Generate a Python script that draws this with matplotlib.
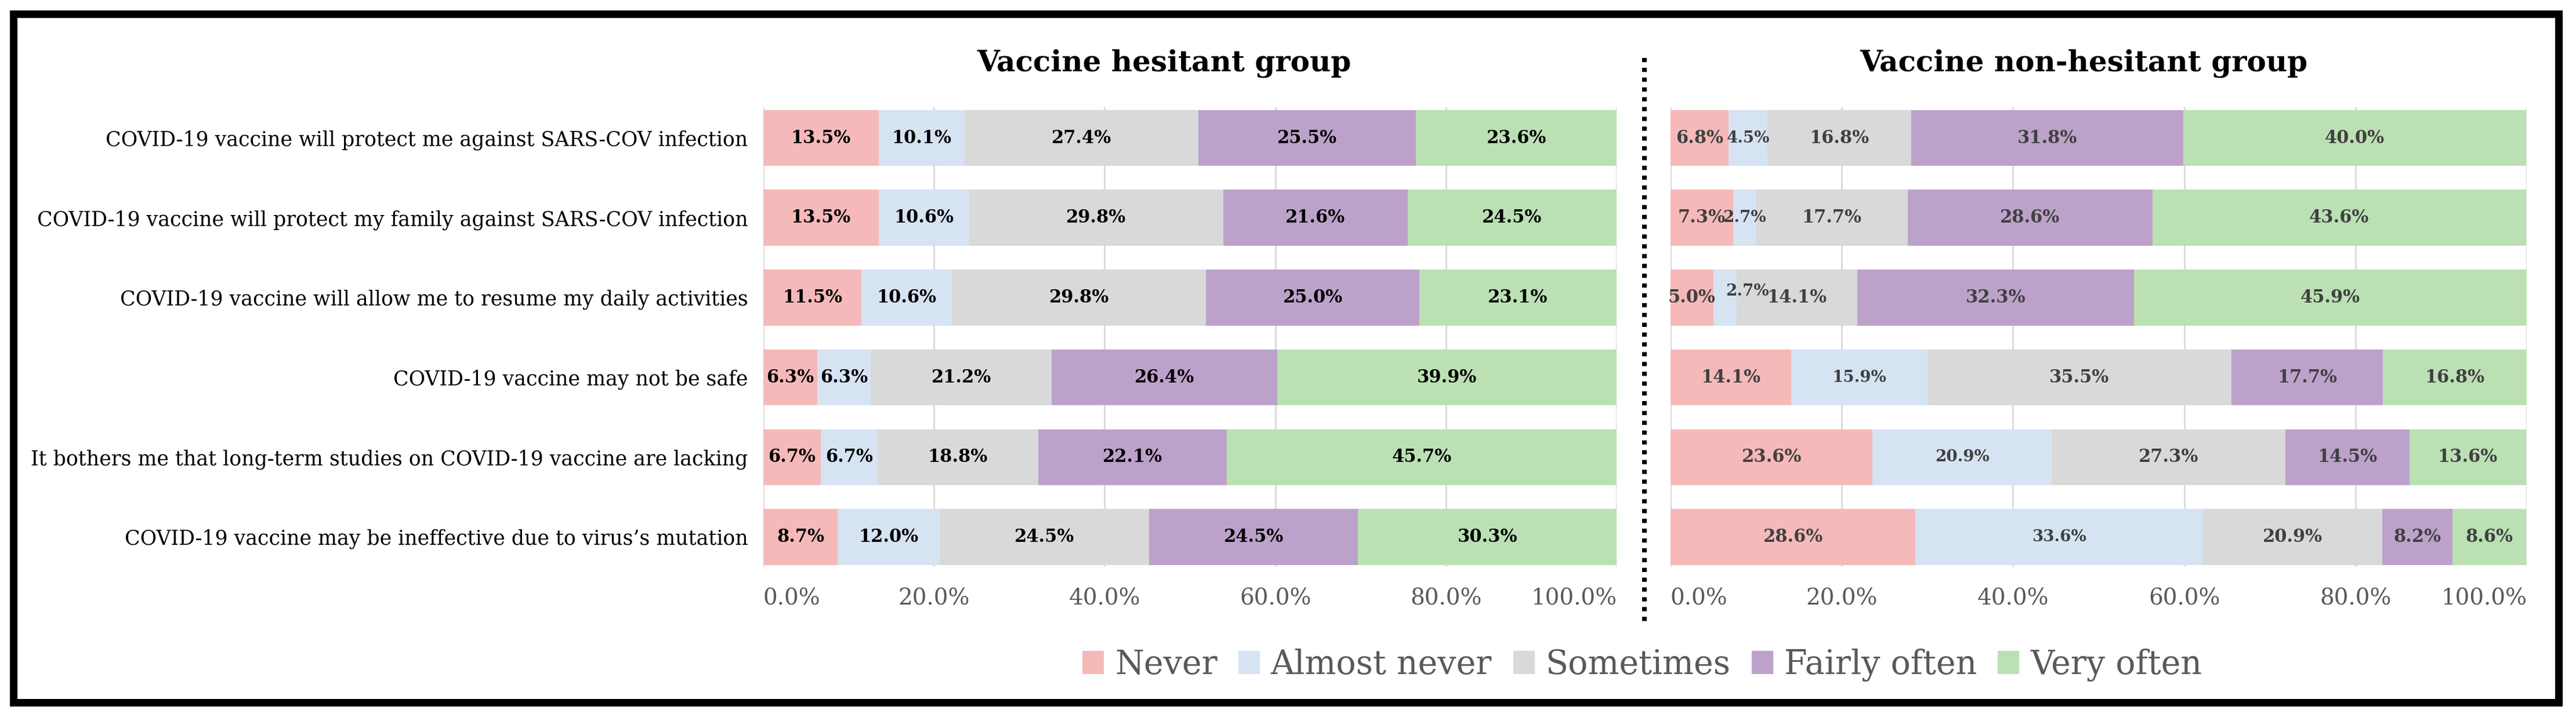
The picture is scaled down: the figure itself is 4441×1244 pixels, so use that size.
import matplotlib
matplotlib.use('Agg')
import matplotlib.pyplot as plt
from matplotlib.lines import Line2D
from matplotlib.patches import Rectangle
from matplotlib.transforms import ScaledTranslation

W, H = 4441, 1244
DPI = 100

statements = [
    'COVID-19 vaccine will protect me against SARS-COV infection',
    'COVID-19 vaccine will protect my family against SARS-COV infection',
    'COVID-19 vaccine will allow me to resume my daily activities',
    'COVID-19 vaccine may not be safe',
    'It bothers me that long-term studies on COVID-19 vaccine are lacking',
    'COVID-19 vaccine may be ineffective due to virus\u2019s mutation',
]
levels = ['Never', 'Almost never', 'Sometimes', 'Fairly often', 'Very often']
colors = ['#F6B9B9', '#D6E3F3', '#D9D9D9', '#BCA2CA', '#BBE0B4']

# vaccine hesitant group (%)
hes_never = [13.5, 13.5, 11.5, 6.3, 6.7, 8.7]
hes_almost = [10.1, 10.6, 10.6, 6.3, 6.7, 12.0]
hes_some = [27.4, 29.8, 29.8, 21.2, 18.8, 24.5]
hes_fairly = [25.5, 21.6, 25.0, 26.4, 22.1, 24.5]
hes_very = [23.6, 24.5, 23.1, 39.9, 45.7, 30.3]

# vaccine non-hesitant group (%)
non_never = [6.8, 7.3, 5.0, 14.1, 23.6, 28.6]
non_almost = [4.5, 2.7, 2.7, 15.9, 20.9, 33.6]
non_some = [16.8, 17.7, 14.1, 35.5, 27.3, 20.9]
non_fairly = [31.8, 28.6, 32.3, 17.7, 14.5, 8.2]
non_very = [40.0, 43.6, 45.9, 16.8, 13.6, 8.6]

xticks = [0, 20, 40, 60, 80, 100]
xtick_labels = ['0.0%', '20.0%', '40.0%', '60.0%', '80.0%', '100.0%']

plt.rcParams['font.family'] = 'DejaVu Serif'

fig = plt.figure(figsize=(W / DPI, H / DPI), dpi=DPI)


def px_axes(x0, x1, y0, y1):
    return fig.add_axes([x0 / W, 1 - y1 / H, (x1 - x0) / W, (y1 - y0) / H])


def draw_panel(ax, series, label_color, small_series=None):
    ypos = list(range(len(statements)))
    left = [0.0] * len(statements)
    conts = []
    for i, (vals, col, lev) in enumerate(zip(series, colors, levels)):
        c = ax.barh(ypos, vals, left=left, height=0.7, color=col, label=lev, zorder=2)
        fs = 22
        if small_series is not None and i == small_series:
            fs = 20
        texts = ax.bar_label(c, labels=['%.1f%%' % v for v in vals], label_type='center',
                             fontsize=fs, fontweight='bold', color=label_color)
        conts.append((c, texts))
        left = [a + b for a, b in zip(left, vals)]
    ax.set_xlim(0, 100)
    ax.set_ylim(5.375, -0.385)
    ax.set_xticks(xticks)
    ax.set_xticklabels(xtick_labels, fontsize=28, color='#595959')
    tl = ax.get_xticklabels()
    # excel keeps the end labels inside the plot area
    tl[0].set_ha('left')
    tl[0].set_transform(tl[0].get_transform() + ScaledTranslation(-0.11, 0, fig.dpi_scale_trans))
    tl[-1].set_ha('right')
    tl[-1].set_transform(tl[-1].get_transform() + ScaledTranslation(0.31, 0, fig.dpi_scale_trans))
    ax.grid(axis='x', color='#D9D9D9', lw=2)
    ax.set_axisbelow(True)
    for s in ax.spines.values():
        s.set_visible(False)
    ax.tick_params(axis='both', length=0)
    ax.tick_params(axis='x', pad=26)
    return conts


ax1 = px_axes(1316, 2787, 185, 978)
conts = draw_panel(ax1, [hes_never, hes_almost, hes_some, hes_fairly, hes_very], 'black')
ax1.set_yticks(range(len(statements)))
ax1.set_yticklabels(statements, fontsize=25)
ax1.tick_params(axis='y', pad=19)

ax2 = px_axes(2880, 4356, 185, 978)
conts2 = draw_panel(ax2, [non_never, non_almost, non_some, non_fairly, non_very], '#404040', small_series=1)
ax2.set_yticks([])
# the 2.7% label in the third row was moved by hand in the original
conts2[1][1][2].xyann = (28, 8)

fig.text(2007 / W, 1 - 122 / H, 'Vaccine hesitant group', ha='center', va='baseline',
         fontsize=36, fontweight='bold')
fig.text(3592 / W, 1 - 122 / H, 'Vaccine non-hesitant group', ha='center', va='baseline',
         fontsize=36, fontweight='bold')

handles = [c for c, _ in conts]
fig.legend(handles, levels, loc='center', bbox_to_anchor=(2831 / W, 1 - 1147 / H), ncol=5,
           frameon=False, fontsize=41, handlelength=0.65, handleheight=0.7,
           handletextpad=0.33, columnspacing=0.64, labelcolor='#595959')

fig.add_artist(Line2D([2835 / W, 2835 / W], [1 - 100 / H, 1 - 1077 / H], color='black',
                      lw=5.8, linestyle=(0, (0.9, 1.2)), transform=fig.transFigure))
fig.add_artist(Rectangle((22.5 / W, 1 - 1211.5 / H), (4410.5 - 22.5) / W, (1211.5 - 23.5) / H,
                         fill=False, lw=9.4, edgecolor='black', joinstyle='miter',
                         transform=fig.transFigure))

fig.savefig('out.png', dpi=DPI)
